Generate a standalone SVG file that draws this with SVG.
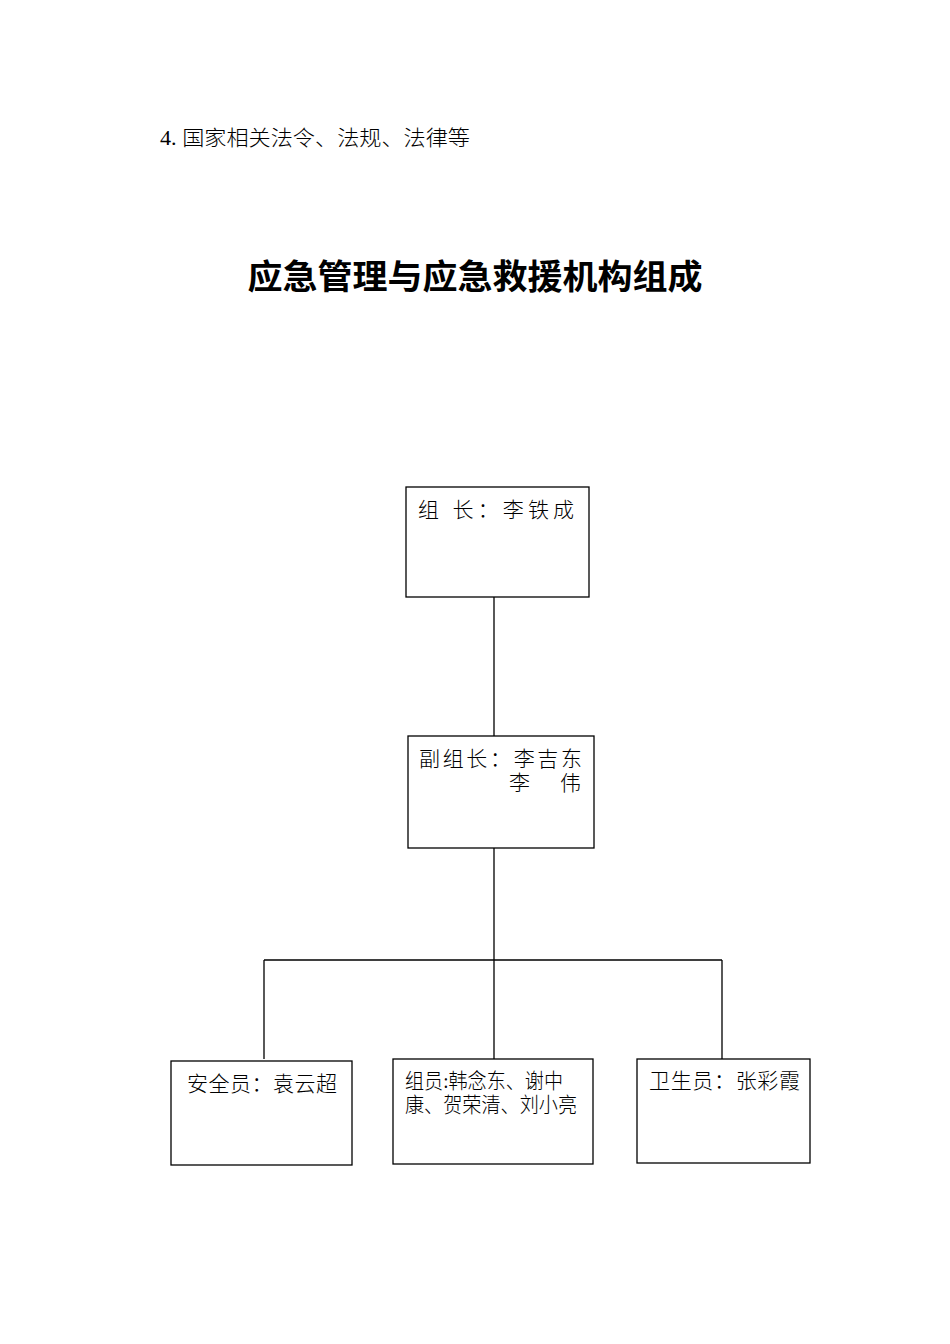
<svg xmlns="http://www.w3.org/2000/svg" width="950" height="1344" viewBox="0 0 950 1344">
<style>
.b{fill:#fff;stroke:#000;stroke-width:1.3}
.t{font-family:"Liberation Serif","Noto Sans CJK SC",serif;font-size:21px;fill:#000;font-weight:300}
.c{stroke:#000;stroke-width:1.3;fill:none}
</style>
<rect width="950" height="1344" fill="#fff"/>
<text x="160" y="145" class="t" textLength="310" lengthAdjust="spacingAndGlyphs">4. 国家相关法令、法规、法律等</text>
<text x="475" y="289" text-anchor="middle" textLength="455" lengthAdjust="spacingAndGlyphs" style="font-family:'Liberation Sans','Noto Sans CJK SC',sans-serif;font-size:34px;font-weight:bold">应急管理与应急救援机构组成</text>
<g id="connectors">
<path class="c" d="M494 597V736M494 848V1059M264 960H722M264 960V1059M722 960V1059"/>
</g>
<g id="n1"><rect class="b" x="406" y="487" width="183" height="110"/><text class="t" x="418" y="517" textLength="156">组  长：李铁成</text></g>
<g id="n2"><rect class="b" x="408" y="736" width="186" height="112"/><text class="t" x="419" y="766" textLength="163">副组长：李吉东</text><text class="t" x="509" y="790" textLength="72">李    伟</text></g>
<g id="n3"><rect class="b" x="171" y="1061" width="181" height="104"/><text class="t" x="187" y="1091" textLength="150">安全员：袁云超</text></g>
<g id="n4"><rect class="b" x="393" y="1059" width="200" height="105"/><text class="t" x="405" y="1088" textLength="158" lengthAdjust="spacingAndGlyphs">组员:韩念东、谢中</text><text class="t" x="405" y="1112" textLength="172" lengthAdjust="spacingAndGlyphs">康、贺荣清、刘小亮</text></g>
<g id="n5"><rect class="b" x="637" y="1059" width="173" height="104"/><text class="t" x="649" y="1088" textLength="151">卫生员：张彩霞</text></g>
</svg>
